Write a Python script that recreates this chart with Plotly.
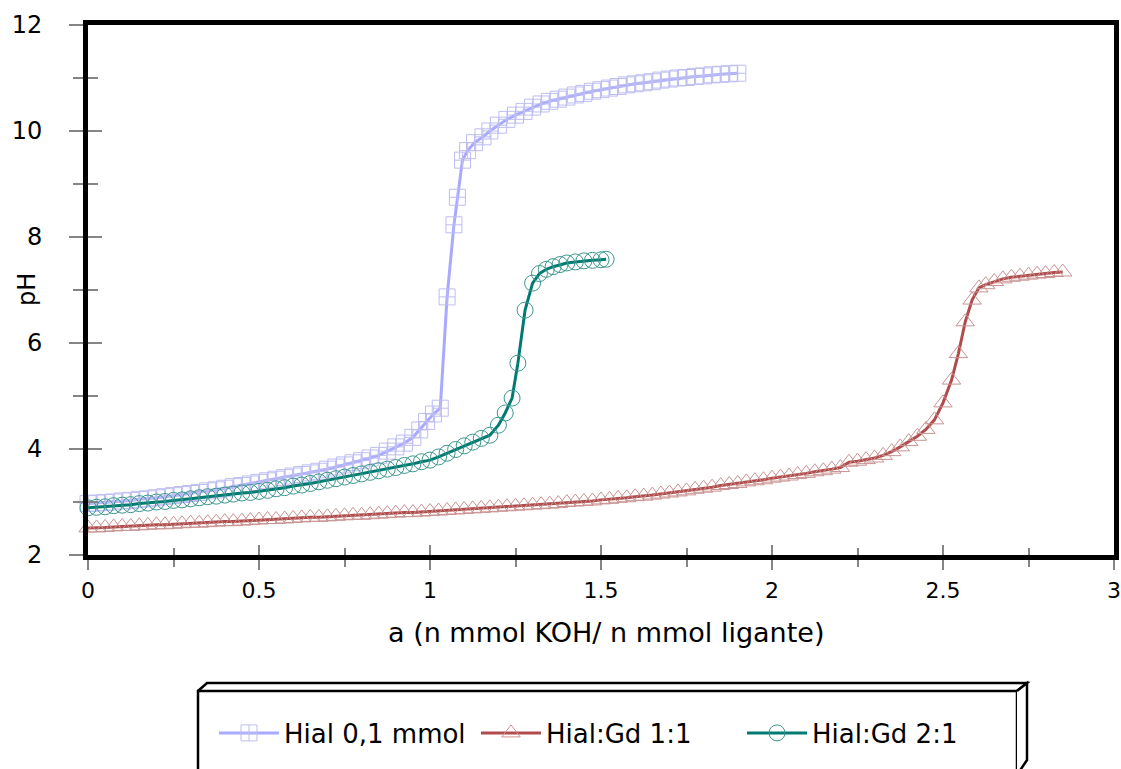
import plotly.graph_objects as go

# ---- data ----
a_hial = [0.000, 0.025, 0.050, 0.075, 0.100, 0.125, 0.150, 0.175, 0.200, 0.225,
          0.250, 0.275, 0.300, 0.325, 0.350, 0.375, 0.400, 0.425, 0.450, 0.475,
          0.500, 0.525, 0.550, 0.575, 0.600, 0.625, 0.650, 0.675, 0.700, 0.725,
          0.750, 0.775, 0.800, 0.825, 0.850, 0.875, 0.900, 0.925, 0.950, 0.970,
          0.990, 1.010, 1.030, 1.050, 1.070, 1.080, 1.095, 1.110, 1.130, 1.155,
          1.175, 1.200, 1.225, 1.250, 1.275, 1.300, 1.325, 1.350, 1.375, 1.400,
          1.425, 1.450, 1.475, 1.500, 1.525, 1.550, 1.575, 1.600, 1.625, 1.650,
          1.675, 1.700, 1.725, 1.750, 1.775, 1.800, 1.825, 1.850, 1.875, 1.900]
ph_hial = [2.97, 2.98, 2.99, 3.00, 3.02, 3.03, 3.05, 3.06, 3.08, 3.10,
           3.12, 3.14, 3.16, 3.18, 3.21, 3.23, 3.26, 3.29, 3.31, 3.34,
           3.37, 3.40, 3.43, 3.46, 3.49, 3.52, 3.55, 3.58, 3.62, 3.66,
           3.70, 3.74, 3.78, 3.83, 3.88, 3.96, 4.04, 4.11, 4.22, 4.36,
           4.52, 4.66, 4.77, 6.87, 8.23, 8.75, 9.45, 9.63, 9.78, 9.89,
           10.00, 10.11, 10.22, 10.30, 10.37, 10.45, 10.51, 10.56, 10.60, 10.64,
           10.68, 10.71, 10.75, 10.78, 10.81, 10.84, 10.87, 10.89, 10.91, 10.93,
           10.96, 10.98, 11.00, 11.01, 11.03, 11.04, 11.06, 11.07, 11.08, 11.09]

a_gd11 = [0.000, 0.025, 0.050, 0.075, 0.100, 0.125, 0.150, 0.175, 0.200, 0.225,
          0.250, 0.275, 0.300, 0.325, 0.350, 0.375, 0.400, 0.425, 0.450, 0.475,
          0.500, 0.525, 0.550, 0.575, 0.600, 0.625, 0.650, 0.675, 0.700, 0.725,
          0.750, 0.775, 0.800, 0.825, 0.850, 0.875, 0.900, 0.925, 0.950, 0.975,
          1.000, 1.025, 1.050, 1.075, 1.100, 1.125, 1.150, 1.175, 1.200, 1.225,
          1.250, 1.275, 1.300, 1.325, 1.350, 1.375, 1.400, 1.425, 1.450, 1.475,
          1.500, 1.525, 1.550, 1.575, 1.600, 1.625, 1.650, 1.675, 1.700, 1.725,
          1.750, 1.775, 1.800, 1.825, 1.850, 1.875, 1.900, 1.925, 1.950, 1.975,
          2.000, 2.025, 2.050, 2.075, 2.100, 2.125, 2.150, 2.175, 2.200, 2.225,
          2.250, 2.275, 2.300, 2.325, 2.350, 2.375, 2.400, 2.425, 2.450, 2.475,
          2.500, 2.525, 2.545, 2.565, 2.585, 2.605, 2.625, 2.650, 2.675, 2.700,
          2.725, 2.750, 2.775, 2.800, 2.825, 2.850]
ph_gd11 = [2.51, 2.51, 2.52, 2.53, 2.54, 2.54, 2.55, 2.56, 2.57, 2.57,
           2.58, 2.59, 2.60, 2.60, 2.61, 2.62, 2.63, 2.63, 2.64, 2.65,
           2.66, 2.67, 2.67, 2.68, 2.69, 2.70, 2.71, 2.71, 2.72, 2.73,
           2.74, 2.75, 2.75, 2.76, 2.77, 2.78, 2.79, 2.80, 2.80, 2.81,
           2.82, 2.83, 2.84, 2.85, 2.86, 2.87, 2.88, 2.89, 2.90, 2.91,
           2.92, 2.93, 2.94, 2.95, 2.96, 2.97, 2.99, 3.00, 3.01, 3.02,
           3.04, 3.05, 3.07, 3.08, 3.10, 3.11, 3.13, 3.15, 3.17, 3.19,
           3.21, 3.24, 3.26, 3.28, 3.31, 3.33, 3.35, 3.38, 3.40, 3.42,
           3.45, 3.47, 3.49, 3.52, 3.54, 3.57, 3.59, 3.62, 3.65, 3.75,
           3.77, 3.80, 3.83, 3.88, 3.95, 4.04, 4.14, 4.24, 4.37, 4.55,
           4.87, 5.30, 5.80, 6.40, 6.81, 7.04, 7.10, 7.16, 7.21, 7.24,
           7.26, 7.28, 7.30, 7.31, 7.33, 7.34]

a_gd21 = [0.000, 0.025, 0.050, 0.075, 0.100, 0.125, 0.150, 0.175, 0.200, 0.225,
          0.250, 0.275, 0.300, 0.325, 0.350, 0.375, 0.400, 0.425, 0.450, 0.475,
          0.500, 0.525, 0.550, 0.575, 0.600, 0.625, 0.650, 0.675, 0.700, 0.725,
          0.750, 0.775, 0.800, 0.825, 0.850, 0.875, 0.900, 0.925, 0.950, 0.975,
          1.000, 1.025, 1.050, 1.075, 1.100, 1.125, 1.150, 1.175, 1.200, 1.220,
          1.240, 1.257, 1.278, 1.300, 1.320, 1.340, 1.360, 1.380, 1.400, 1.425,
          1.450, 1.475, 1.500, 1.515]
ph_gd21 = [2.89, 2.90, 2.91, 2.93, 2.94, 2.95, 2.97, 2.98, 3.00, 3.01,
           3.03, 3.04, 3.06, 3.08, 3.10, 3.11, 3.13, 3.15, 3.17, 3.18,
           3.20, 3.22, 3.25, 3.27, 3.30, 3.32, 3.35, 3.38, 3.41, 3.44,
           3.47, 3.50, 3.53, 3.56, 3.59, 3.62, 3.65, 3.69, 3.72, 3.76,
           3.79, 3.85, 3.92, 3.99, 4.06, 4.13, 4.20, 4.26, 4.45, 4.68,
           4.96, 5.62, 6.62, 7.13, 7.31, 7.39, 7.44, 7.48, 7.51, 7.53,
           7.55, 7.56, 7.57, 7.58]

names = ["Hial 0,1 mmol", "Hial:Gd 1:1", "Hial:Gd 2:1"]
x_title = "a (n mmol KOH/ n mmol ligante)"
y_title = "pH"

# ---- layout geometry (pixels) ----
W, H = 1121, 769
L, R, T, B = 88, 1114, 25, 555
FONT = "DejaVu Sans"


def px(xp):
    return (xp - L) / (R - L)


def py(yp):
    return (B - yp) / (B - T)


fig = go.Figure()
fig.add_trace(go.Scatter(
    x=a_hial, y=ph_hial, name=names[0], mode="lines+markers",
    line=dict(color="#a9a9ff", width=3),
    marker=dict(symbol="square-cross-open", size=16, color="#bdbdf2",
                line=dict(width=1, color="#bdbdf2")),
    cliponaxis=False, legend="legend"))
fig.add_trace(go.Scatter(
    x=a_gd11, y=ph_gd11, name=names[1], mode="lines+markers",
    line=dict(color="#b04c4c", width=3),
    marker=dict(symbol="triangle-up-open", size=16, color="#c99393",
                line=dict(width=1, color="#c99393")),
    cliponaxis=False, legend="legend2"))
fig.add_trace(go.Scatter(
    x=a_gd21, y=ph_gd21, name=names[2], mode="lines+markers",
    line=dict(color="#007b72", width=3),
    marker=dict(symbol="circle-open", size=16, color="#3d978e",
                line=dict(width=1, color="#3d978e")),
    cliponaxis=False, legend="legend3"))

tick_gray = "#858585"
xtickfont = dict(family=FONT, size=22, color="black")
ytickfont = dict(family=FONT, size=24, color="black")

xaxis_common = dict(range=[0, 3], dtick=0.5, tick0=0, showgrid=False, zeroline=False,
                    tickwidth=2, tickcolor=tick_gray, ticklen=10)
yaxis_common = dict(range=[2, 12], dtick=2, tick0=2, showgrid=False, zeroline=False,
                    tickwidth=2, tickcolor=tick_gray, ticklen=14)

legend_common = dict(orientation="h", yanchor="middle", xanchor="left",
                     font=dict(family=FONT, size=26, color="black"),
                     bgcolor="rgba(0,0,0,0)", borderwidth=0, itemwidth=60)

shapes = [
    # 3D legend frame: front face
    dict(type="path", xref="paper", yref="paper",
         path=f"M{px(198)},{py(775)} L{px(198)},{py(691)} L{px(1017)},{py(691)} L{px(1017)},{py(775)}",
         line=dict(color="black", width=2.5)),
    # top face
    dict(type="path", xref="paper", yref="paper",
         path=f"M{px(198)},{py(691)} L{px(207)},{py(683)} L{px(1027)},{py(683)} L{px(1017)},{py(691)}",
         line=dict(color="black", width=2.5)),
    # right face
    dict(type="path", xref="paper", yref="paper",
         path=f"M{px(1017)},{py(691)} L{px(1027)},{py(683)} L{px(1027)},{py(760)} L{px(1017)},{py(775)}",
         line=dict(color="black", width=2.5), fillcolor="white"),
]

fig.update_layout(
    width=W, height=H,
    margin=dict(l=L, r=W - R, t=T, b=H - B, autoexpand=False),
    paper_bgcolor="white", plot_bgcolor="white",
    font=dict(family=FONT, color="black"),
    xaxis=dict(**xaxis_common, ticks="outside", showline=True, linewidth=5,
               linecolor="black", mirror=True, tickfont=xtickfont,
               ticklabelstandoff=2, ticklabeloverflow="allow", automargin=False,
               minor=dict(ticks="outside", dtick=0.25, ticklen=7, tickwidth=2,
                          tickcolor=tick_gray)),
    xaxis2=dict(**xaxis_common, overlaying="x", anchor="y", side="bottom",
                ticks="inside", showticklabels=False, showline=False, automargin=False,
                minor=dict(ticks="inside", dtick=0.25, ticklen=7, tickwidth=2,
                           tickcolor=tick_gray)),
    yaxis=dict(**yaxis_common, ticks="outside", showline=True, linewidth=5,
               linecolor="black", mirror=True, tickfont=ytickfont,
               ticklabelstandoff=22, ticklabeloverflow="allow", automargin=False,
               minor=dict(ticks="outside", dtick=1, ticklen=10, tickwidth=2,
                          tickcolor=tick_gray)),
    yaxis2=dict(**yaxis_common, overlaying="y", anchor="x", side="left",
                ticks="inside", showticklabels=False, showline=False, automargin=False,
                minor=dict(ticks="inside", dtick=1, ticklen=10, tickwidth=2,
                           tickcolor=tick_gray)),
    legend=dict(**legend_common, x=px(214), y=py(733)),
    legend2=dict(**legend_common, x=px(476), y=py(733)),
    legend3=dict(**legend_common, x=px(742), y=py(733)),
    shapes=shapes,
    annotations=[
        dict(text=x_title, xref="paper", yref="paper", x=px(606), y=py(632),
             showarrow=False, font=dict(family=FONT, size=27, color="black"),
             xanchor="center", yanchor="middle"),
        dict(text=y_title, xref="paper", yref="paper", x=px(27), y=py(290),
             showarrow=False, textangle=-90,
             font=dict(family=FONT, size=24, color="black"),
             xanchor="center", yanchor="middle"),
    ],
)

# invisible helper trace so the overlay axes render
fig.add_trace(go.Scatter(x=[None], y=[None], xaxis="x2", yaxis="y2",
                         showlegend=False, hoverinfo="skip"))

fig.write_html("out.html",
               config={"displayModeBar": False},
               post_script="document.body.style.margin='0';document.body.style.overflow='hidden';")
